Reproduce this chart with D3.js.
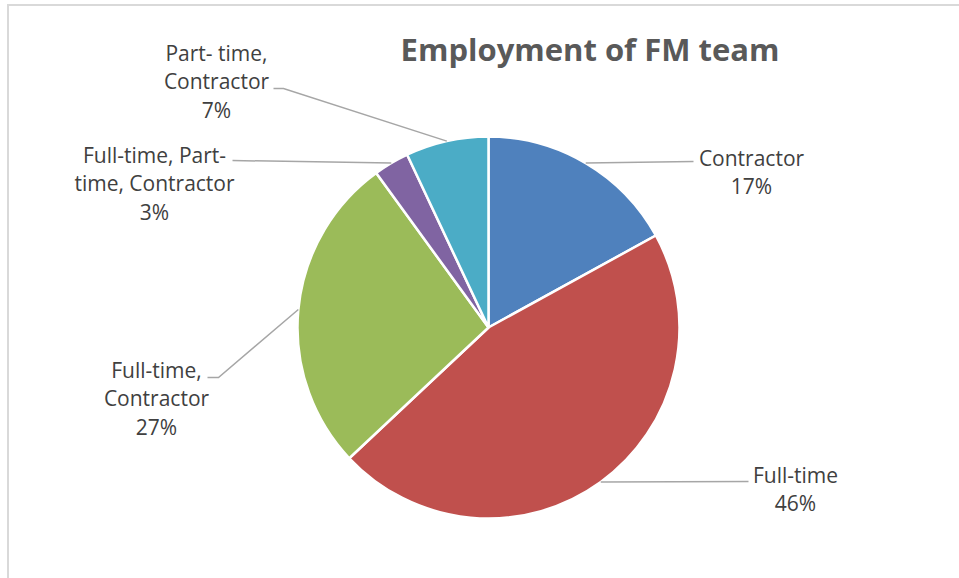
<!DOCTYPE html>
<html>
<head>
<meta charset="utf-8">
<script src="https://cdn.jsdelivr.net/npm/d3@7"></script>
<style>
  body { margin: 0; background: #fff; }
  svg { display: block; font-family: "Open Sans", sans-serif; }
</style>
</head>
<body>
<svg id="viz"></svg>
<script>
// data
var categories = ["Contractor", "Full-time", "Full-time, Contractor", "Full-time, Part-time, Contractor", "Part- time, Contractor"];
var values = [17, 46, 27, 3, 7];
var colors = ["#4F81BD", "#C0504D", "#9BBB59", "#8064A2", "#4BACC6"];
// label text lines, as wrapped in the original
var labelLines = [
    ["Contractor", "17%"],
    ["Full-time", "46%"],
    ["Full-time,", "Contractor", "27%"],
    ["Full-time, Part-", "time, Contractor", "3%"],
    ["Part- time,", "Contractor", "7%"]
];

var width = 959, height = 578;
var cx = 488.5, cy = 327.5, radius = 191;
var lineH = 28.5;

// label placement (relative to pie centre): text centre x, first baseline y, leader end point
var labelPos = [
    {x: 263, y: -162, lx: 205, ly: -166},
    {x: 307, y: 155, lx: 260, ly: 154},
    {x: -332, y: 50, lx: -281, ly: 50, elbow: [-270, 50]},
    {x: -334, y: -165, lx: -256, ly: -167},
    {x: -272, y: -267, lx: -215, ly: -239, elbow: [-205, -239]}
];

var svg = d3.select("#viz").attr("width", width).attr("height", height);

svg.append("rect")
    .attr("x", 8).attr("y", 5)
    .attr("width", 980).attr("height", 600)
    .style("fill", "none")
    .style("stroke", "#d9d9d9")
    .style("stroke-width", 2);

svg.append("text")
    .attr("x", 590).attr("y", 61)
    .attr("text-anchor", "middle")
    .style("font-size", "31px")
    .style("font-weight", "bold")
    .style("fill", "#595959")
    .text("Employment of FM team");

var pie = d3.pie().sort(null).value(function(d) { return d; });
var arcs = pie(values);
var arc = d3.arc().innerRadius(0).outerRadius(radius);

var g = svg.append("g").attr("transform", "translate(" + cx + "," + cy + ")");

g.selectAll("path.slice")
    .data(arcs)
    .enter()
    .append("path")
    .attr("class", "slice")
    .attr("d", arc)
    .attr("fill", function(d, i) { return colors[i]; })
    .attr("stroke", "#fff")
    .attr("stroke-width", 2.5);

// leader lines from arc midpoint to the label
g.selectAll("polyline.leader")
    .data(arcs)
    .enter()
    .append("polyline")
    .attr("class", "leader")
    .attr("points", function(d, i) {
        var a = (d.startAngle + d.endAngle) / 2;
        var p0 = [radius * Math.sin(a), -radius * Math.cos(a)];
        var lp = labelPos[i];
        var pts = [p0];
        if (lp.elbow) pts.push(lp.elbow);
        pts.push([lp.lx, lp.ly]);
        if (lp.elbow) pts = [p0, lp.elbow, [lp.lx + (lp.elbow[0] < lp.lx ? 0 : 0), lp.ly]];
        return pts.map(function(p) { return p.join(","); }).join(" ");
    })
    .attr("fill", "none")
    .attr("stroke", "#a6a6a6")
    .attr("stroke-width", 1.5);

var labels = g.selectAll("text.lbl")
    .data(arcs)
    .enter()
    .append("text")
    .attr("class", "lbl")
    .attr("text-anchor", "middle")
    .style("font-size", "21px")
    .style("fill", "#404040");

labels.each(function(d, i) {
    var t = d3.select(this);
    var lp = labelPos[i];
    labelLines[i].forEach(function(s, k) {
        t.append("tspan")
            .attr("x", lp.x)
            .attr("y", lp.y + k * lineH)
            .text(s);
    });
});
</script>
</body>
</html>
